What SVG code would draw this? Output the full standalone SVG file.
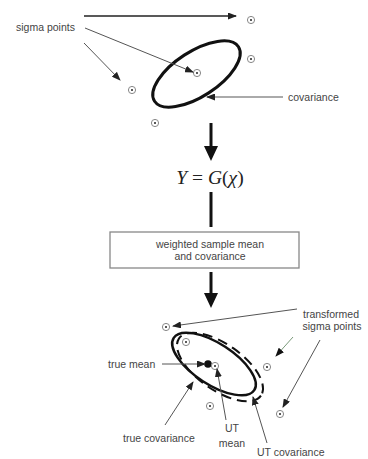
<svg xmlns="http://www.w3.org/2000/svg" width="368" height="459" viewBox="0 0 368 459">
<style>
.lbl{font-family:"Liberation Sans",Arial,sans-serif;font-size:10.5px;fill:#444}
.thin{stroke:#555;stroke-width:1;fill:none}
.big{fill:#111}
</style>
<defs>
<marker id="ah" markerWidth="9" markerHeight="7" refX="8" refY="3.5" orient="auto" markerUnits="userSpaceOnUse">
<path d="M0,0 L9,3.5 L0,7 z" fill="#222"/>
</marker>
<marker id="ahg" markerWidth="9" markerHeight="7" refX="8" refY="3.5" orient="auto" markerUnits="userSpaceOnUse">
<path d="M0,0 L9,3.5 L0,7 z" fill="#111"/>
</marker>
<g id="spt"><circle r="3.6" fill="#fff" stroke="#888" stroke-width="1"/><circle r="1" fill="#222"/></g>
</defs>
<rect width="368" height="459" fill="#fff"/>

<g id="top-ellipse"><ellipse cx="196.5" cy="74" rx="50" ry="22.5" transform="rotate(-33 196.5 74)" fill="none" stroke="#111" stroke-width="3"/></g>

<g id="sigma-points-top">
<use href="#spt" x="251" y="20"/>
<use href="#spt" x="251" y="59"/>
<use href="#spt" x="197" y="73"/>
<use href="#spt" x="132" y="90"/>
<use href="#spt" x="155" y="123"/>
</g>

<g id="label-sigma"><text class="lbl" x="16" y="31">sigma points</text></g>
<g id="label-covariance"><text class="lbl" x="288" y="101">covariance</text></g>

<g id="formula"><text x="210" y="184" text-anchor="middle" font-family="'Liberation Serif','Times New Roman',serif" font-size="19.5" fill="#222"><tspan font-style="italic">Y</tspan> = <tspan font-style="italic">G</tspan>(<tspan font-style="italic">χ</tspan>)</text></g>

<g id="box">
<rect x="110" y="232" width="189" height="36" fill="#fff" stroke="#888" stroke-width="1.3"/>
<text class="lbl" x="210" y="248" text-anchor="middle">weighted sample mean</text>
<text class="lbl" x="210" y="260" text-anchor="middle">and covariance</text>
</g>

<g id="bottom-ellipses">
<ellipse cx="214" cy="364" rx="48" ry="20.5" transform="rotate(33 214 364)" fill="none" stroke="#111" stroke-width="2.5"/>
<ellipse cx="220" cy="367" rx="50" ry="23" transform="rotate(35 220 367)" fill="none" stroke="#111" stroke-width="2" stroke-dasharray="10 6"/>
</g>

<g id="sigma-points-bottom">
<use href="#spt" x="166" y="327"/>
<use href="#spt" x="186" y="342"/>
<use href="#spt" x="267" y="367"/>
<use href="#spt" x="280" y="414"/>
<use href="#spt" x="210" y="406"/>
</g>
<g id="true-mean"><circle cx="208" cy="364" r="3.8" fill="#111"/></g>
<g id="ut-mean"><use href="#spt" x="215" y="366"/></g>

<g id="label-transformed">
<text class="lbl" x="331" y="318" text-anchor="middle">transformed</text>
<text class="lbl" x="332" y="330" text-anchor="middle">sigma points</text>
</g>
<g id="label-true-mean"><text class="lbl" x="108" y="368">true mean</text></g>
<g id="label-true-cov"><text class="lbl" x="123" y="442">true covariance</text></g>
<g id="label-ut-mean">
<text class="lbl" x="232" y="432" text-anchor="middle">UT</text>
<text class="lbl" x="232" y="447" text-anchor="middle">mean</text>
</g>
<g id="label-ut-cov"><text class="lbl" x="257" y="456">UT covariance</text></g>

<g id="connectors">
<line x1="84" y1="16" x2="236" y2="16" stroke="#222" stroke-width="1.5" marker-end="url(#ah)"/>
<line class="thin" x1="85" y1="28" x2="193" y2="72" marker-end="url(#ah)"/>
<line class="thin" x1="84" y1="43" x2="120" y2="80" marker-end="url(#ah)"/>
<line x1="283" y1="97" x2="207" y2="97" stroke="#aaa" stroke-width="2" marker-end="url(#ah)"/>

<line x1="211" y1="123" x2="211" y2="149" stroke="#111" stroke-width="3"/>
<polygon class="big" points="204,146 218,146 211,161"/>
<line x1="211" y1="192" x2="211" y2="227" stroke="#111" stroke-width="3"/>
<line x1="211" y1="272" x2="211" y2="296" stroke="#111" stroke-width="3"/>
<polygon class="big" points="204,293 218,293 211,308"/>

<line class="thin" x1="297" y1="309" x2="173" y2="326" marker-end="url(#ah)"/>
<line x1="293" y1="337" x2="276" y2="356" stroke="#7a9a7a" stroke-width="1" marker-end="url(#ahg)"/>
<line class="thin" x1="320" y1="340" x2="283" y2="407" marker-end="url(#ah)"/>
<line class="thin" x1="162" y1="364" x2="205" y2="364" marker-end="url(#ah)"/>
<line class="thin" x1="165" y1="425" x2="193" y2="382" marker-end="url(#ah)"/>
<line class="thin" x1="226" y1="420" x2="217" y2="369" marker-end="url(#ah)"/>
<line class="thin" x1="267" y1="443" x2="253" y2="397" marker-end="url(#ah)"/>
</g>
</svg>
